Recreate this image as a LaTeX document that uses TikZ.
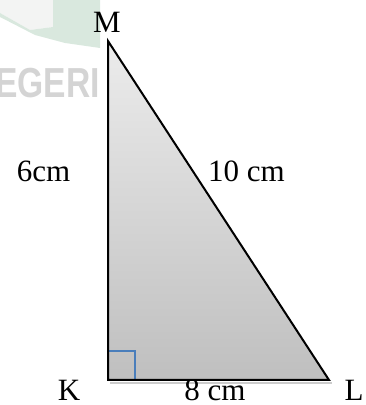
\documentclass[tikz,border=0pt]{standalone}
\usepackage{fontspec}
\setmainfont{Liberation Serif}
\newfontfamily\wmfont{Liberation Sans}
\definecolor{wmgreen}{HTML}{D9E8DE}
\definecolor{wmgray}{HTML}{D4D4D4}
\definecolor{wmlight}{HTML}{F3F4F3}
\definecolor{rablue}{HTML}{4A7EBB}
\definecolor{fillTop}{HTML}{ECECEC}
\definecolor{fillBot}{HTML}{BFBFBF}
\begin{document}
\begin{tikzpicture}[x=1pt,y=1pt,
  lbl/.style={font=\fontsize{31}{36}\selectfont, inner sep=0pt, anchor=base},
  edge/.style={line width=2pt, black, line join=miter}]
\useasboundingbox (0,0) rectangle (366,405);
% watermark fragment
\fill[wmlight] (0,405) -- (0,392) -- (30,375) -- (53,378) -- (53,405) -- cycle;
\fill[wmgreen] (0,392) -- (0,388) -- (35,370) -- (65,362) -- (100,357) -- (100,405) -- (53,405) -- (53,378) -- (30,375) -- cycle;
\node[inner sep=0pt, anchor=base east, text=wmgray, font=\wmfont\bfseries\fontsize{42}{48}\selectfont, xscale=0.8] (wm) at (100,307) {EGERI};
% triangle
\coordinate (M) at (108,364);
\coordinate (K) at (108,25);
\coordinate (L) at (329,25);
\draw[line width=2pt, fillBot!80] ([xshift=2pt,yshift=-3pt]K) -- ([xshift=3pt,yshift=-3pt]L);
\shade[top color=fillTop, bottom color=fillBot] (M) -- (K) -- (L) -- cycle;
\draw[rablue, line width=1.5pt] ([yshift=29pt]K) -| ([xshift=27pt]K);
\draw[edge] (M) -- (K) -- (L) -- cycle;
% labels
\node[lbl] (lM) at (107,372) {M};
\node[lbl] (lK) at (69,5) {K};
\node[lbl] (lL) at (354,5) {L};
\node[lbl] (lKL) at (215,5) {8 cm};
\node[lbl] (lKM) at (43.5,223) {6cm};
\node[lbl] (lML) at (246.5,223) {10 cm};
\end{tikzpicture}
\end{document}
